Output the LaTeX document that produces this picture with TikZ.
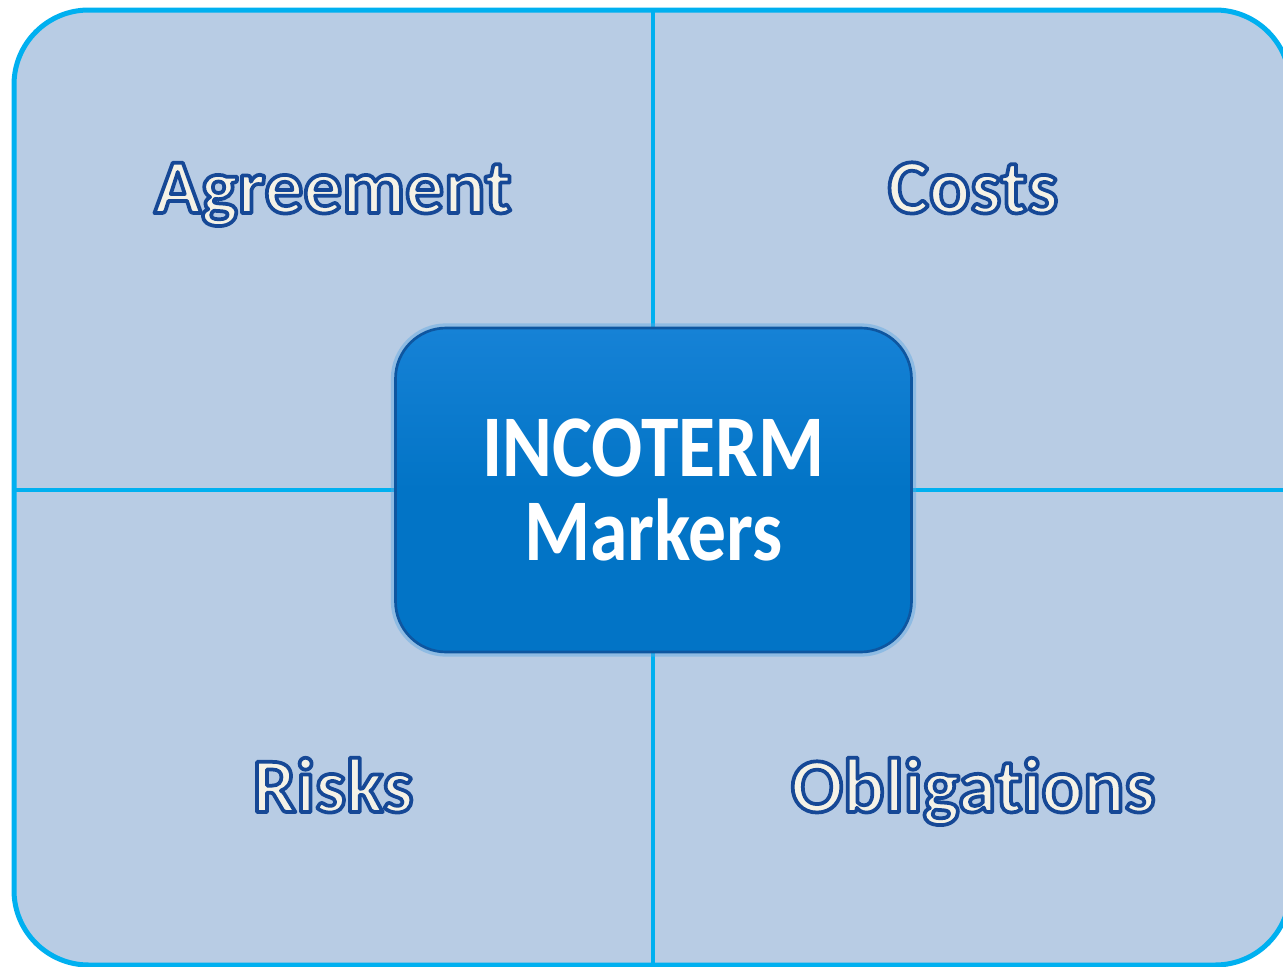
\documentclass[tikz,border=0pt]{standalone}
\usepackage{fontspec}
\setmainfont{Carlito}[Ligatures=NoCommon]
\usepackage{graphicx}
\usetikzlibrary{positioning}
\definecolor{panelfill}{RGB}{184,204,228}
\definecolor{framecol}{RGB}{0,176,240}
\definecolor{capfill}{RGB}{245,242,230}
\definecolor{capedge}{RGB}{22,72,150}
\definecolor{hubfill}{RGB}{2,116,198}
\definecolor{hubtop}{RGB}{22,130,214}
\definecolor{hubedge}{RGB}{14,86,160}
% outlined caption text: fill and stroke in one run
\newcommand{\caplabel}[1]{\special{pdf:literal direct 2 Tr 2.8 w 1 j 0.086 0.282 0.588 RG 0.961 0.949 0.902 rg}#1\special{pdf:literal direct 0 Tr}}
\tikzset{
  quadline/.style={draw=framecol, line width=3pt},
  caption/.style={anchor=base, inner sep=0pt, text=capfill, font=\bfseries\fontsize{58}{62}\selectfont},
  hub/.style={rectangle, rounded corners=38pt, minimum width=387pt, minimum height=243pt,
    draw=hubedge, line width=2pt, top color=hubtop, bottom color=hubfill, middle color=hubfill,
    preaction={draw=hubtop!70, line width=7pt, opacity=0.45},
    align=center, text=white, font=\bfseries\fontsize{66}{63}\selectfont}
}
\begin{document}
\begin{tikzpicture}[x=0.75pt,y=0.75pt,yscale=-1,xscale=1]
\useasboundingbox (0,0) rectangle (1283,967);
\clip (0,0) rectangle (1283,967);

%Rounded Rect
\draw[draw=framecol, fill=panelfill, line width=3.75pt, rounded corners=56pt] (14,10) rectangle (1290,965);

\coordinate (vtop) at (653,10);
\coordinate (vbot) at (653,965);
\coordinate (hleft) at (14,490);
\coordinate (hright) at (1290,490);

%Straight Lines
\draw[quadline] (vtop) -- (vbot);
%Straight Lines
\draw[quadline] (hleft) -- (hright);

% Hub Node
\node[hub] (markers) at (653.5,490) {\scalebox{0.86}[1]{INCOTERM}\\\scalebox{0.86}[1]{Markers}};

% Text Node
\node[caption] (agreement) at (333,213) {\caplabel{Agreement}};
% Text Node
\node[caption] (costs) at (973,213) {\caplabel{Costs}};
% Text Node
\node[caption] (risks) at (333,812) {\caplabel{Risks}};
% Text Node
\node[caption] (obligations) at (973,812) {\caplabel{Obligations}};

\end{tikzpicture}
\end{document}
